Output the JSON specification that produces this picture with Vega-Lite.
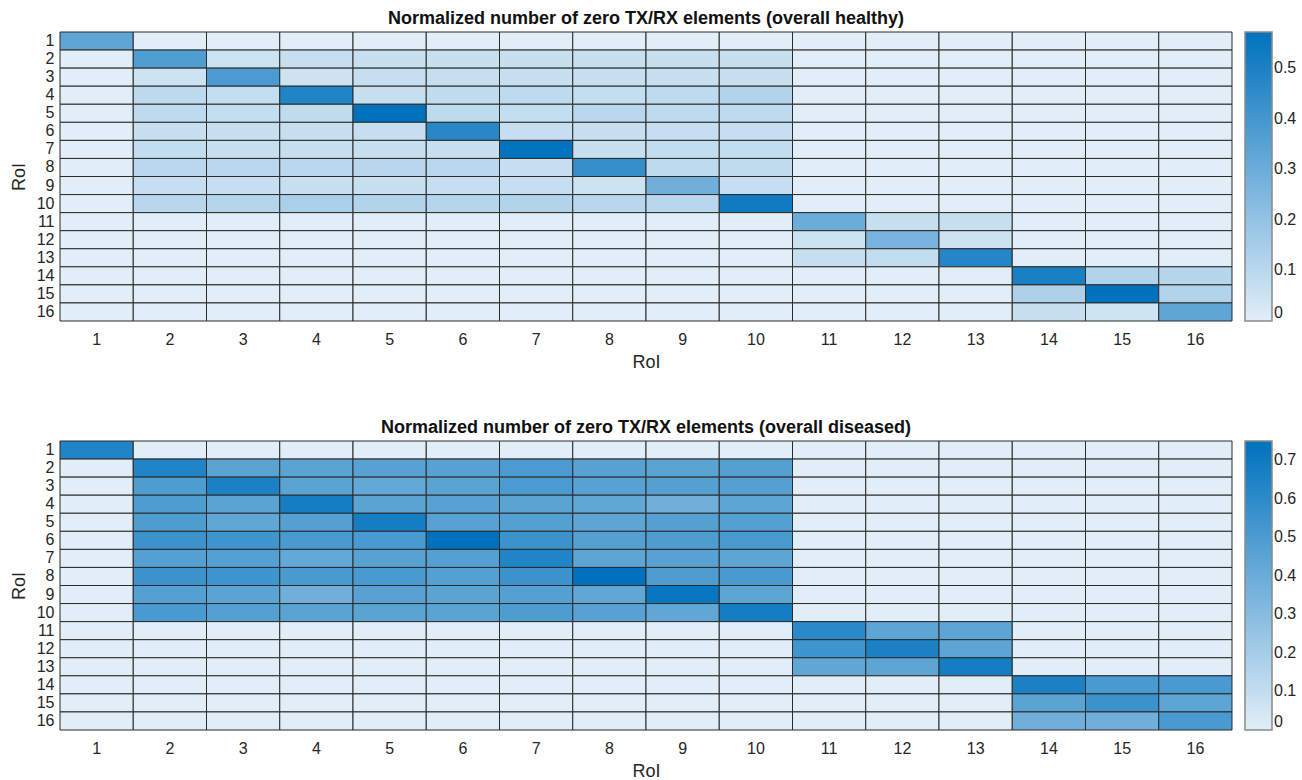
{
  "$schema": "https://vega.github.io/schema/vega-lite/v6.json",
  "background": "white",
  "padding": {"left": 10, "top": 9, "right": 5, "bottom": 5},
  "config": {
    "font": "Liberation Sans",
    "view": {"stroke": null},
    "concat": {"spacing": 47},
    "axis": {"domain": false, "ticks": false, "grid": false, "labelFontSize": 16, "labelColor": "#262626", "titleFontSize": 18, "titleFontWeight": "normal", "titleColor": "#262626"},
    "title": {"fontSize": 18, "fontWeight": "bold", "color": "#111111", "offset": 4},
    "legend": {"labelFontSize": 16, "labelColor": "#262626", "gradientThickness": 27, "gradientLength": 289, "gradientStrokeColor": "#8a8a8a", "gradientStrokeWidth": 1.5, "offset": 13, "labelOffset": 7, "labelOverlap": false}
  },
  "datasets": {
    "healthy": [
      {"r":1,"c":1,"v":0.33},{"r":1,"c":2,"v":0},{"r":1,"c":3,"v":0},{"r":1,"c":4,"v":0},{"r":1,"c":5,"v":0},{"r":1,"c":6,"v":0},{"r":1,"c":7,"v":0},{"r":1,"c":8,"v":0},{"r":1,"c":9,"v":0},{"r":1,"c":10,"v":0},{"r":1,"c":11,"v":0},{"r":1,"c":12,"v":0},{"r":1,"c":13,"v":0},{"r":1,"c":14,"v":0},{"r":1,"c":15,"v":0},{"r":1,"c":16,"v":0},
      {"r":2,"c":1,"v":0},{"r":2,"c":2,"v":0.37},{"r":2,"c":3,"v":0.055},{"r":2,"c":4,"v":0.07},{"r":2,"c":5,"v":0.065},{"r":2,"c":6,"v":0.065},{"r":2,"c":7,"v":0.065},{"r":2,"c":8,"v":0.065},{"r":2,"c":9,"v":0.065},{"r":2,"c":10,"v":0.065},{"r":2,"c":11,"v":0},{"r":2,"c":12,"v":0},{"r":2,"c":13,"v":0},{"r":2,"c":14,"v":0},{"r":2,"c":15,"v":0},{"r":2,"c":16,"v":0},
      {"r":3,"c":1,"v":0},{"r":3,"c":2,"v":0.05},{"r":3,"c":3,"v":0.38},{"r":3,"c":4,"v":0.05},{"r":3,"c":5,"v":0.07},{"r":3,"c":6,"v":0.07},{"r":3,"c":7,"v":0.065},{"r":3,"c":8,"v":0.065},{"r":3,"c":9,"v":0.065},{"r":3,"c":10,"v":0.065},{"r":3,"c":11,"v":0},{"r":3,"c":12,"v":0},{"r":3,"c":13,"v":0},{"r":3,"c":14,"v":0},{"r":3,"c":15,"v":0},{"r":3,"c":16,"v":0},
      {"r":4,"c":1,"v":0},{"r":4,"c":2,"v":0.095},{"r":4,"c":3,"v":0.075},{"r":4,"c":4,"v":0.49},{"r":4,"c":5,"v":0.065},{"r":4,"c":6,"v":0.085},{"r":4,"c":7,"v":0.09},{"r":4,"c":8,"v":0.075},{"r":4,"c":9,"v":0.09},{"r":4,"c":10,"v":0.12},{"r":4,"c":11,"v":0},{"r":4,"c":12,"v":0},{"r":4,"c":13,"v":0},{"r":4,"c":14,"v":0},{"r":4,"c":15,"v":0},{"r":4,"c":16,"v":0},
      {"r":5,"c":1,"v":0},{"r":5,"c":2,"v":0.09},{"r":5,"c":3,"v":0.075},{"r":5,"c":4,"v":0.085},{"r":5,"c":5,"v":0.571},{"r":5,"c":6,"v":0.09},{"r":5,"c":7,"v":0.075},{"r":5,"c":8,"v":0.1},{"r":5,"c":9,"v":0.09},{"r":5,"c":10,"v":0.09},{"r":5,"c":11,"v":0},{"r":5,"c":12,"v":0},{"r":5,"c":13,"v":0},{"r":5,"c":14,"v":0},{"r":5,"c":15,"v":0},{"r":5,"c":16,"v":0},
      {"r":6,"c":1,"v":0},{"r":6,"c":2,"v":0.065},{"r":6,"c":3,"v":0.065},{"r":6,"c":4,"v":0.065},{"r":6,"c":5,"v":0.07},{"r":6,"c":6,"v":0.47},{"r":6,"c":7,"v":0.07},{"r":6,"c":8,"v":0.065},{"r":6,"c":9,"v":0.07},{"r":6,"c":10,"v":0.07},{"r":6,"c":11,"v":0},{"r":6,"c":12,"v":0},{"r":6,"c":13,"v":0},{"r":6,"c":14,"v":0},{"r":6,"c":15,"v":0},{"r":6,"c":16,"v":0},
      {"r":7,"c":1,"v":0},{"r":7,"c":2,"v":0.08},{"r":7,"c":3,"v":0.065},{"r":7,"c":4,"v":0.065},{"r":7,"c":5,"v":0.065},{"r":7,"c":6,"v":0.065},{"r":7,"c":7,"v":0.565},{"r":7,"c":8,"v":0.065},{"r":7,"c":9,"v":0.08},{"r":7,"c":10,"v":0.08},{"r":7,"c":11,"v":0},{"r":7,"c":12,"v":0},{"r":7,"c":13,"v":0},{"r":7,"c":14,"v":0},{"r":7,"c":15,"v":0},{"r":7,"c":16,"v":0},
      {"r":8,"c":1,"v":0},{"r":8,"c":2,"v":0.1},{"r":8,"c":3,"v":0.1},{"r":8,"c":4,"v":0.1},{"r":8,"c":5,"v":0.105},{"r":8,"c":6,"v":0.1},{"r":8,"c":7,"v":0.07},{"r":8,"c":8,"v":0.44},{"r":8,"c":9,"v":0.09},{"r":8,"c":10,"v":0.085},{"r":8,"c":11,"v":0},{"r":8,"c":12,"v":0},{"r":8,"c":13,"v":0},{"r":8,"c":14,"v":0},{"r":8,"c":15,"v":0},{"r":8,"c":16,"v":0},
      {"r":9,"c":1,"v":0},{"r":9,"c":2,"v":0.07},{"r":9,"c":3,"v":0.07},{"r":9,"c":4,"v":0.065},{"r":9,"c":5,"v":0.065},{"r":9,"c":6,"v":0.07},{"r":9,"c":7,"v":0.07},{"r":9,"c":8,"v":0.05},{"r":9,"c":9,"v":0.29},{"r":9,"c":10,"v":0.07},{"r":9,"c":11,"v":0},{"r":9,"c":12,"v":0},{"r":9,"c":13,"v":0},{"r":9,"c":14,"v":0},{"r":9,"c":15,"v":0},{"r":9,"c":16,"v":0},
      {"r":10,"c":1,"v":0},{"r":10,"c":2,"v":0.105},{"r":10,"c":3,"v":0.115},{"r":10,"c":4,"v":0.14},{"r":10,"c":5,"v":0.12},{"r":10,"c":6,"v":0.115},{"r":10,"c":7,"v":0.12},{"r":10,"c":8,"v":0.105},{"r":10,"c":9,"v":0.105},{"r":10,"c":10,"v":0.53},{"r":10,"c":11,"v":0},{"r":10,"c":12,"v":0},{"r":10,"c":13,"v":0},{"r":10,"c":14,"v":0},{"r":10,"c":15,"v":0},{"r":10,"c":16,"v":0},
      {"r":11,"c":1,"v":0},{"r":11,"c":2,"v":0},{"r":11,"c":3,"v":0},{"r":11,"c":4,"v":0},{"r":11,"c":5,"v":0},{"r":11,"c":6,"v":0},{"r":11,"c":7,"v":0},{"r":11,"c":8,"v":0},{"r":11,"c":9,"v":0},{"r":11,"c":10,"v":0},{"r":11,"c":11,"v":0.3},{"r":11,"c":12,"v":0.065},{"r":11,"c":13,"v":0.065},{"r":11,"c":14,"v":0},{"r":11,"c":15,"v":0},{"r":11,"c":16,"v":0},
      {"r":12,"c":1,"v":0},{"r":12,"c":2,"v":0},{"r":12,"c":3,"v":0},{"r":12,"c":4,"v":0},{"r":12,"c":5,"v":0},{"r":12,"c":6,"v":0},{"r":12,"c":7,"v":0},{"r":12,"c":8,"v":0},{"r":12,"c":9,"v":0},{"r":12,"c":10,"v":0},{"r":12,"c":11,"v":0.056},{"r":12,"c":12,"v":0.27},{"r":12,"c":13,"v":0.05},{"r":12,"c":14,"v":0},{"r":12,"c":15,"v":0},{"r":12,"c":16,"v":0},
      {"r":13,"c":1,"v":0},{"r":13,"c":2,"v":0},{"r":13,"c":3,"v":0},{"r":13,"c":4,"v":0},{"r":13,"c":5,"v":0},{"r":13,"c":6,"v":0},{"r":13,"c":7,"v":0},{"r":13,"c":8,"v":0},{"r":13,"c":9,"v":0},{"r":13,"c":10,"v":0},{"r":13,"c":11,"v":0.07},{"r":13,"c":12,"v":0.08},{"r":13,"c":13,"v":0.477},{"r":13,"c":14,"v":0},{"r":13,"c":15,"v":0},{"r":13,"c":16,"v":0},
      {"r":14,"c":1,"v":0},{"r":14,"c":2,"v":0},{"r":14,"c":3,"v":0},{"r":14,"c":4,"v":0},{"r":14,"c":5,"v":0},{"r":14,"c":6,"v":0},{"r":14,"c":7,"v":0},{"r":14,"c":8,"v":0},{"r":14,"c":9,"v":0},{"r":14,"c":10,"v":0},{"r":14,"c":11,"v":0},{"r":14,"c":12,"v":0},{"r":14,"c":13,"v":0},{"r":14,"c":14,"v":0.505},{"r":14,"c":15,"v":0.12},{"r":14,"c":16,"v":0.11},
      {"r":15,"c":1,"v":0},{"r":15,"c":2,"v":0},{"r":15,"c":3,"v":0},{"r":15,"c":4,"v":0},{"r":15,"c":5,"v":0},{"r":15,"c":6,"v":0},{"r":15,"c":7,"v":0},{"r":15,"c":8,"v":0},{"r":15,"c":9,"v":0},{"r":15,"c":10,"v":0},{"r":15,"c":11,"v":0},{"r":15,"c":12,"v":0},{"r":15,"c":13,"v":0},{"r":15,"c":14,"v":0.135},{"r":15,"c":15,"v":0.571},{"r":15,"c":16,"v":0.12},
      {"r":16,"c":1,"v":0},{"r":16,"c":2,"v":0},{"r":16,"c":3,"v":0},{"r":16,"c":4,"v":0},{"r":16,"c":5,"v":0},{"r":16,"c":6,"v":0},{"r":16,"c":7,"v":0},{"r":16,"c":8,"v":0},{"r":16,"c":9,"v":0},{"r":16,"c":10,"v":0},{"r":16,"c":11,"v":0},{"r":16,"c":12,"v":0},{"r":16,"c":13,"v":0},{"r":16,"c":14,"v":0.065},{"r":16,"c":15,"v":0.045},{"r":16,"c":16,"v":0.33}
    ],
    "diseased": [
      {"r":1,"c":1,"v":0.64},{"r":1,"c":2,"v":0},{"r":1,"c":3,"v":0},{"r":1,"c":4,"v":0},{"r":1,"c":5,"v":0},{"r":1,"c":6,"v":0},{"r":1,"c":7,"v":0},{"r":1,"c":8,"v":0},{"r":1,"c":9,"v":0},{"r":1,"c":10,"v":0},{"r":1,"c":11,"v":0},{"r":1,"c":12,"v":0},{"r":1,"c":13,"v":0},{"r":1,"c":14,"v":0},{"r":1,"c":15,"v":0},{"r":1,"c":16,"v":0},
      {"r":2,"c":1,"v":0},{"r":2,"c":2,"v":0.64},{"r":2,"c":3,"v":0.45},{"r":2,"c":4,"v":0.45},{"r":2,"c":5,"v":0.46},{"r":2,"c":6,"v":0.46},{"r":2,"c":7,"v":0.5},{"r":2,"c":8,"v":0.46},{"r":2,"c":9,"v":0.45},{"r":2,"c":10,"v":0.47},{"r":2,"c":11,"v":0},{"r":2,"c":12,"v":0},{"r":2,"c":13,"v":0},{"r":2,"c":14,"v":0},{"r":2,"c":15,"v":0},{"r":2,"c":16,"v":0},
      {"r":3,"c":1,"v":0},{"r":3,"c":2,"v":0.49},{"r":3,"c":3,"v":0.66},{"r":3,"c":4,"v":0.45},{"r":3,"c":5,"v":0.42},{"r":3,"c":6,"v":0.45},{"r":3,"c":7,"v":0.5},{"r":3,"c":8,"v":0.46},{"r":3,"c":9,"v":0.47},{"r":3,"c":10,"v":0.47},{"r":3,"c":11,"v":0},{"r":3,"c":12,"v":0},{"r":3,"c":13,"v":0},{"r":3,"c":14,"v":0},{"r":3,"c":15,"v":0},{"r":3,"c":16,"v":0},
      {"r":4,"c":1,"v":0},{"r":4,"c":2,"v":0.49},{"r":4,"c":3,"v":0.45},{"r":4,"c":4,"v":0.68},{"r":4,"c":5,"v":0.45},{"r":4,"c":6,"v":0.46},{"r":4,"c":7,"v":0.45},{"r":4,"c":8,"v":0.43},{"r":4,"c":9,"v":0.38},{"r":4,"c":10,"v":0.44},{"r":4,"c":11,"v":0},{"r":4,"c":12,"v":0},{"r":4,"c":13,"v":0},{"r":4,"c":14,"v":0},{"r":4,"c":15,"v":0},{"r":4,"c":16,"v":0},
      {"r":5,"c":1,"v":0},{"r":5,"c":2,"v":0.49},{"r":5,"c":3,"v":0.43},{"r":5,"c":4,"v":0.47},{"r":5,"c":5,"v":0.68},{"r":5,"c":6,"v":0.46},{"r":5,"c":7,"v":0.47},{"r":5,"c":8,"v":0.44},{"r":5,"c":9,"v":0.47},{"r":5,"c":10,"v":0.47},{"r":5,"c":11,"v":0},{"r":5,"c":12,"v":0},{"r":5,"c":13,"v":0},{"r":5,"c":14,"v":0},{"r":5,"c":15,"v":0},{"r":5,"c":16,"v":0},
      {"r":6,"c":1,"v":0},{"r":6,"c":2,"v":0.55},{"r":6,"c":3,"v":0.54},{"r":6,"c":4,"v":0.51},{"r":6,"c":5,"v":0.51},{"r":6,"c":6,"v":0.75},{"r":6,"c":7,"v":0.55},{"r":6,"c":8,"v":0.47},{"r":6,"c":9,"v":0.49},{"r":6,"c":10,"v":0.51},{"r":6,"c":11,"v":0},{"r":6,"c":12,"v":0},{"r":6,"c":13,"v":0},{"r":6,"c":14,"v":0},{"r":6,"c":15,"v":0},{"r":6,"c":16,"v":0},
      {"r":7,"c":1,"v":0},{"r":7,"c":2,"v":0.47},{"r":7,"c":3,"v":0.47},{"r":7,"c":4,"v":0.42},{"r":7,"c":5,"v":0.46},{"r":7,"c":6,"v":0.47},{"r":7,"c":7,"v":0.64},{"r":7,"c":8,"v":0.44},{"r":7,"c":9,"v":0.46},{"r":7,"c":10,"v":0.44},{"r":7,"c":11,"v":0},{"r":7,"c":12,"v":0},{"r":7,"c":13,"v":0},{"r":7,"c":14,"v":0},{"r":7,"c":15,"v":0},{"r":7,"c":16,"v":0},
      {"r":8,"c":1,"v":0},{"r":8,"c":2,"v":0.55},{"r":8,"c":3,"v":0.54},{"r":8,"c":4,"v":0.51},{"r":8,"c":5,"v":0.51},{"r":8,"c":6,"v":0.47},{"r":8,"c":7,"v":0.55},{"r":8,"c":8,"v":0.75},{"r":8,"c":9,"v":0.49},{"r":8,"c":10,"v":0.51},{"r":8,"c":11,"v":0},{"r":8,"c":12,"v":0},{"r":8,"c":13,"v":0},{"r":8,"c":14,"v":0},{"r":8,"c":15,"v":0},{"r":8,"c":16,"v":0},
      {"r":9,"c":1,"v":0},{"r":9,"c":2,"v":0.47},{"r":9,"c":3,"v":0.45},{"r":9,"c":4,"v":0.38},{"r":9,"c":5,"v":0.46},{"r":9,"c":6,"v":0.45},{"r":9,"c":7,"v":0.47},{"r":9,"c":8,"v":0.43},{"r":9,"c":9,"v":0.72},{"r":9,"c":10,"v":0.44},{"r":9,"c":11,"v":0},{"r":9,"c":12,"v":0},{"r":9,"c":13,"v":0},{"r":9,"c":14,"v":0},{"r":9,"c":15,"v":0},{"r":9,"c":16,"v":0},
      {"r":10,"c":1,"v":0},{"r":10,"c":2,"v":0.51},{"r":10,"c":3,"v":0.47},{"r":10,"c":4,"v":0.45},{"r":10,"c":5,"v":0.45},{"r":10,"c":6,"v":0.45},{"r":10,"c":7,"v":0.49},{"r":10,"c":8,"v":0.46},{"r":10,"c":9,"v":0.43},{"r":10,"c":10,"v":0.68},{"r":10,"c":11,"v":0},{"r":10,"c":12,"v":0},{"r":10,"c":13,"v":0},{"r":10,"c":14,"v":0},{"r":10,"c":15,"v":0},{"r":10,"c":16,"v":0},
      {"r":11,"c":1,"v":0},{"r":11,"c":2,"v":0},{"r":11,"c":3,"v":0},{"r":11,"c":4,"v":0},{"r":11,"c":5,"v":0},{"r":11,"c":6,"v":0},{"r":11,"c":7,"v":0},{"r":11,"c":8,"v":0},{"r":11,"c":9,"v":0},{"r":11,"c":10,"v":0},{"r":11,"c":11,"v":0.61},{"r":11,"c":12,"v":0.44},{"r":11,"c":13,"v":0.44},{"r":11,"c":14,"v":0},{"r":11,"c":15,"v":0},{"r":11,"c":16,"v":0},
      {"r":12,"c":1,"v":0},{"r":12,"c":2,"v":0},{"r":12,"c":3,"v":0},{"r":12,"c":4,"v":0},{"r":12,"c":5,"v":0},{"r":12,"c":6,"v":0},{"r":12,"c":7,"v":0},{"r":12,"c":8,"v":0},{"r":12,"c":9,"v":0},{"r":12,"c":10,"v":0},{"r":12,"c":11,"v":0.54},{"r":12,"c":12,"v":0.66},{"r":12,"c":13,"v":0.44},{"r":12,"c":14,"v":0},{"r":12,"c":15,"v":0},{"r":12,"c":16,"v":0},
      {"r":13,"c":1,"v":0},{"r":13,"c":2,"v":0},{"r":13,"c":3,"v":0},{"r":13,"c":4,"v":0},{"r":13,"c":5,"v":0},{"r":13,"c":6,"v":0},{"r":13,"c":7,"v":0},{"r":13,"c":8,"v":0},{"r":13,"c":9,"v":0},{"r":13,"c":10,"v":0},{"r":13,"c":11,"v":0.43},{"r":13,"c":12,"v":0.44},{"r":13,"c":13,"v":0.68},{"r":13,"c":14,"v":0},{"r":13,"c":15,"v":0},{"r":13,"c":16,"v":0},
      {"r":14,"c":1,"v":0},{"r":14,"c":2,"v":0},{"r":14,"c":3,"v":0},{"r":14,"c":4,"v":0},{"r":14,"c":5,"v":0},{"r":14,"c":6,"v":0},{"r":14,"c":7,"v":0},{"r":14,"c":8,"v":0},{"r":14,"c":9,"v":0},{"r":14,"c":10,"v":0},{"r":14,"c":11,"v":0},{"r":14,"c":12,"v":0},{"r":14,"c":13,"v":0},{"r":14,"c":14,"v":0.66},{"r":14,"c":15,"v":0.51},{"r":14,"c":16,"v":0.51},
      {"r":15,"c":1,"v":0},{"r":15,"c":2,"v":0},{"r":15,"c":3,"v":0},{"r":15,"c":4,"v":0},{"r":15,"c":5,"v":0},{"r":15,"c":6,"v":0},{"r":15,"c":7,"v":0},{"r":15,"c":8,"v":0},{"r":15,"c":9,"v":0},{"r":15,"c":10,"v":0},{"r":15,"c":11,"v":0},{"r":15,"c":12,"v":0},{"r":15,"c":13,"v":0},{"r":15,"c":14,"v":0.45},{"r":15,"c":15,"v":0.55},{"r":15,"c":16,"v":0.44},
      {"r":16,"c":1,"v":0},{"r":16,"c":2,"v":0},{"r":16,"c":3,"v":0},{"r":16,"c":4,"v":0},{"r":16,"c":5,"v":0},{"r":16,"c":6,"v":0},{"r":16,"c":7,"v":0},{"r":16,"c":8,"v":0},{"r":16,"c":9,"v":0},{"r":16,"c":10,"v":0},{"r":16,"c":11,"v":0},{"r":16,"c":12,"v":0},{"r":16,"c":13,"v":0},{"r":16,"c":14,"v":0.38},{"r":16,"c":15,"v":0.38},{"r":16,"c":16,"v":0.51}
    ]
  },
  "vconcat": [
    {
      "data": {"name": "healthy"},
      "title": "Normalized number of zero TX/RX elements (overall healthy)",
      "width": 1172,
      "height": 289,
      "mark": {"type": "rect", "stroke": "#2b2b2b", "strokeWidth": 1},
      "encoding": {
        "x": {"field": "c", "type": "ordinal", "title": "RoI", "axis": {"labelAngle": 0, "labelPadding": 10, "titlePadding": 6}},
        "y": {"field": "r", "type": "ordinal", "title": "RoI", "axis": {"labelPadding": 6, "titlePadding": 8}},
        "color": {
          "field": "v", "type": "quantitative",
          "scale": {"domain": [0, 0.571], "range": ["#e1eef7", "#0072bd"], "interpolate": "rgb"},
          "legend": {"title": null, "format": "~g", "values": [0, 0.1, 0.2, 0.3, 0.4, 0.5]}
        }
      }
    },
    {
      "data": {"name": "diseased"},
      "title": "Normalized number of zero TX/RX elements (overall diseased)",
      "width": 1172,
      "height": 289,
      "mark": {"type": "rect", "stroke": "#2b2b2b", "strokeWidth": 1},
      "encoding": {
        "x": {"field": "c", "type": "ordinal", "title": "RoI", "axis": {"labelAngle": 0, "labelPadding": 10, "titlePadding": 6}},
        "y": {"field": "r", "type": "ordinal", "title": "RoI", "axis": {"labelPadding": 6, "titlePadding": 8}},
        "color": {
          "field": "v", "type": "quantitative",
          "scale": {"domain": [0, 0.75], "range": ["#e1eef7", "#0072bd"], "interpolate": "rgb"},
          "legend": {"title": null, "format": "~g", "values": [0, 0.1, 0.2, 0.3, 0.4, 0.5, 0.6, 0.7]}
        }
      }
    }
  ],
  "resolve": {"scale": {"color": "independent"}}
}
